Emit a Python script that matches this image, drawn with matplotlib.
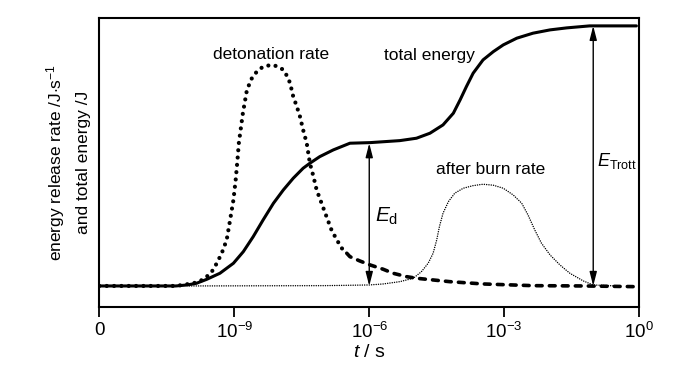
import matplotlib
matplotlib.use("Agg")
import matplotlib.pyplot as plt
import numpy as np

plt.rcParams['font.family'] = ['Liberation Sans', 'DejaVu Sans']
plt.rcParams['mathtext.fontset'] = 'custom'
plt.rcParams['mathtext.rm'] = 'Liberation Sans'
plt.rcParams['mathtext.it'] = 'Liberation Sans:italic'
plt.rcParams['mathtext.sf'] = 'Liberation Sans'

# log10(t / s) and relative curve heights
total_logt = [-12.0, -10.3, -10.05, -9.84, -9.61, -9.32, -9.02, -8.80, -8.58, -8.36,
              -8.13, -7.91, -7.69, -7.47, -7.32, -7.10, -6.80, -6.43, -5.98, -5.32,
              -4.95, -4.65, -4.36, -4.13, -3.98, -3.84, -3.69, -3.47, -3.24, -3.02,
              -2.72, -2.36, -1.98, -1.61, -1.10, -0.06]
total_energy = [0, 0, 1, 2.7, 6.7, 12.7, 22.7, 34.3, 49.3, 66,
                82.7, 96, 107.7, 117.7, 122.7, 129.3, 136, 142.7, 143.3, 145.3,
                147.7, 152.7, 161, 172.7, 186, 199.3, 212.7, 226, 234.3, 241,
                247.7, 252.7, 256, 258, 260, 260]

deton_logt = [-12.0, -10.3, -9.91, -9.76, -9.65, -9.50, -9.39, -9.28, -9.17, -9.10,
              -9.02, -8.97, -8.93, -8.90, -8.87, -8.81, -8.72, -8.61, -8.50, -8.36,
              -8.17, -8.02, -7.91, -7.82, -7.76, -7.69, -7.61, -7.54, -7.47, -7.39,
              -7.32, -7.24, -7.17, -7.06, -6.95, -6.84, -6.72, -6.61, -6.50]
deton_rate = [0, 0, 2.7, 5, 7.7, 14.3, 22.7, 32.7, 46, 64.3,
              86, 106, 126, 142.7, 152.7, 172.7, 196, 207.7, 214.3, 219.3,
              221, 219.3, 216, 209.3, 202.7, 189.3, 179.3, 169.3, 156, 142.7,
              122.7, 109.3, 96, 82.7, 69.3, 56, 46, 37.7, 32.7]
tail_logt = [-6.50, -6.43, -6.21, -5.98, -5.69, -5.47, -5.17, -4.95, -4.58, -4.21,
             -3.47, -2.36, -1.24, -0.06]
tail_rate = [32.7, 29.3, 25, 21, 16.7, 12.7, 9.3, 7.7, 6, 4.3,
             2, 0.3, 0, -0.7]

after_logt = [-10.0, -7.0, -6.0, -5.69, -5.32, -5.02, -4.84, -4.69, -4.58, -4.50,
              -4.44, -4.36, -4.24, -4.10, -3.91, -3.69, -3.47, -3.24, -3.02, -2.80,
              -2.61, -2.47, -2.32, -2.17, -1.98, -1.76, -1.54, -1.24, -1.02, -0.5]
after_rate = [0, 0.3, 1, 2, 4.3, 7.7, 14.3, 22.7, 32.7, 46,
              59.3, 72.7, 84.3, 92.7, 97.7, 100.3, 101.7, 100.7, 97.7, 91,
              82.7, 71, 56, 42.7, 31, 21, 12.7, 5, 1, 0]

tick_exp = [-12, -9, -6, -3, 0]
tick_labels = ['0', r'$10^{-9}$', r'$10^{-6}$', r'$10^{-3}$', r'$10^{0}$']

ed_logt = -6.0
etrott_logt = -1.02

fig = plt.figure(figsize=(7.0, 3.65), dpi=100)
ax = fig.add_axes([0.142, 0.159, 0.771, 0.792])

t = lambda e: 10.0 ** np.asarray(e, dtype=float)

ax.plot(t(after_logt), after_rate, color='black', lw=1.1,
        linestyle=(0, (0.01, 1.5)), dash_capstyle='round')
ax.plot(t(deton_logt), deton_rate, color='black', lw=3.0,
        linestyle=(0, (0.01, 1.75)), dash_capstyle='round')
ax.plot(t(tail_logt), tail_rate, color='black', lw=2.6,
        linestyle=(0, (1.6, 2.0)), dash_capstyle='round')
ax.plot(t(total_logt), total_energy, color='black', lw=2.2,
        solid_capstyle='round', solid_joinstyle='round')

# arrows
arrow_kw = dict(arrowstyle='<|-|>,head_length=0.7,head_width=0.18', color='black',
                lw=1.0, mutation_scale=12, shrinkA=0, shrinkB=0)
ax.annotate('', xy=(t(ed_logt), 142.7), xytext=(t(ed_logt), 0), arrowprops=arrow_kw)
ax.annotate('', xy=(t(etrott_logt), 260), xytext=(t(etrott_logt), 0), arrowprops=arrow_kw)

fs = 12.5
ax.text(t(-8.18), 231, 'detonation rate', ha='center', va='center', fontsize=fs)
ax.text(t(-4.66), 230, 'total energy', ha='center', va='center', fontsize=fs)
ax.text(t(-3.31), 116, 'after burn rate', ha='center', va='center', fontsize=fs)
ax.text(t(-5.87), 70, r'$\mathit{E}_{\mathrm{d}}$', ha='left', va='center', fontsize=15)
ax.text(t(-0.94), 125, r'$\mathit{E}_{\mathrm{Trott}}$', ha='left', va='center', fontsize=13)

ax.set_xscale('log')
ax.set_xlim(1e-12, 1.0)
ax.set_ylim(-21, 268)
ax.set_xticks(t(tick_exp))
ax.set_xticklabels(tick_labels, fontsize=13.5)
ax.xaxis.set_minor_locator(matplotlib.ticker.NullLocator())
ax.set_yticks([])
ax.tick_params(axis='x', direction='out', length=7, width=1.3, pad=4)
for s in ax.spines.values():
    s.set_linewidth(1.5)

ax.set_xlabel(r'$\mathit{t}$ / s', fontsize=14, labelpad=1)
ax.set_ylabel('energy release rate /J$\\cdot$s$^{-1}$\nand total energy /J',
              fontsize=12.5, labelpad=6, linespacing=1.75)

fig.savefig('out.png', dpi=100)
